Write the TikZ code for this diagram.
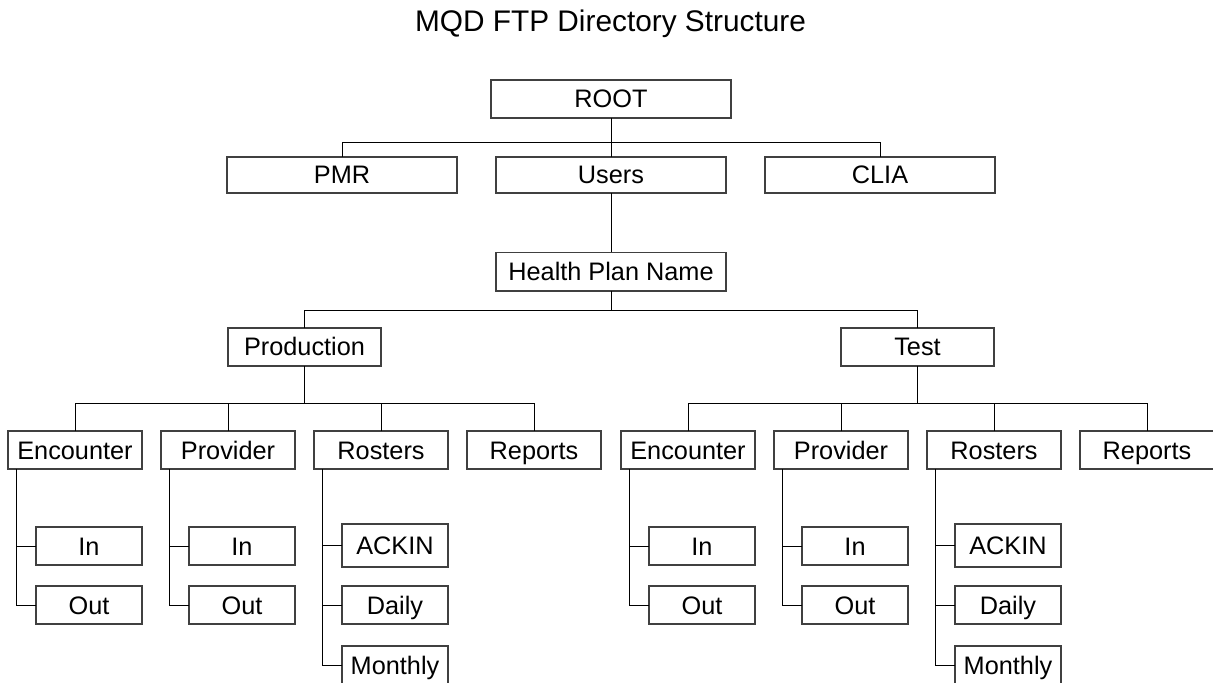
\documentclass[tikz,border=0pt]{standalone}
\usepackage{fontspec}
\setmainfont{Liberation Sans}
\usetikzlibrary{positioning}
\tikzset{
  dir/.style ={rectangle, draw=black!75, line width=0.6pt, align=center, inner sep=0pt, outer sep=0pt,
               minimum width=67pt, minimum height=19pt, text height=9pt, text depth=0pt,
               font=\fontsize{12.65}{15}\selectfont},
  sub/.style ={dir, minimum width=53pt},
  ttl/.style ={font=\fontsize{14.9}{18}\selectfont, anchor=base},
  ln/.style  ={line width=0.5pt},
}
\begin{document}
\begin{tikzpicture}[node distance=9.5pt]
  \useasboundingbox (0,0) rectangle (606.5pt,-341.5pt);
  \node[ttl] (title) at (305.25pt,-16pt) {MQD FTP Directory Structure};
  \node[dir, minimum width=120pt] (root) at (305.5pt,-49.5pt) {ROOT};
  \node[dir, minimum width=115pt, minimum height=18pt, below=19.5pt of root] (users) {Users};
  \node[dir, minimum width=115pt, minimum height=18pt, left=19.5pt of users] (pmr) {PMR};
  \node[dir, minimum width=115pt, minimum height=18pt, right=19.5pt of users] (clia) {CLIA};
  \node[dir, minimum width=115pt, minimum height=19.25pt, below=29.75pt of users] (plan) {Health Plan Name};
  \node[dir, minimum width=76.5pt, below=18.5pt of plan, xshift=-153.25pt] (prod) {Production};
  \node[dir, minimum width=76.5pt, below=18.5pt of plan, xshift=153.25pt] (test) {Test};

  % Production
  \node[dir, below=32.5pt of prod, xshift=-114.75pt] (encP) {Encounter};
  \node[dir, right=of encP] (provP) {Provider};
  \node[dir, right=of provP] (rosP) {Rosters};
  \node[dir, right=of rosP] (repP) {Reports};
  \node[sub, below left=29pt and 0pt of encP.south east] (inEP) {In};
  \node[sub, below=10.5pt of inEP] (outEP) {Out};
  \node[sub, below left=29pt and 0pt of provP.south east] (inPP) {In};
  \node[sub, below=10.5pt of inPP] (outPP) {Out};
  \node[sub, minimum height=21.5pt, below left=27.5pt and 0pt of rosP.south east] (ackP) {ACKIN};
  \node[sub, below=9.5pt of ackP] (dayP) {Daily};
  \node[sub, below=11pt of dayP] (monP) {Monthly};

  % Test
  \node[dir, below=32.5pt of test, xshift=-114.75pt] (encT) {Encounter};
  \node[dir, right=of encT] (provT) {Provider};
  \node[dir, right=of provT] (rosT) {Rosters};
  \node[dir, right=of rosT] (repT) {Reports};
  \node[sub, below left=29pt and 0pt of encT.south east] (inET) {In};
  \node[sub, below=10.5pt of inET] (outET) {Out};
  \node[sub, below left=29pt and 0pt of provT.south east] (inPT) {In};
  \node[sub, below=10.5pt of inPT] (outPT) {Out};
  \node[sub, minimum height=21.5pt, below left=27.5pt and 0pt of rosT.south east] (ackT) {ACKIN};
  \node[sub, below=9.5pt of ackT] (dayT) {Daily};
  \node[sub, below=11pt of dayT] (monT) {Monthly};

  \draw[ln] (root) -- (users);
  \draw[ln] (pmr.north) -- ++(0,7.15pt) coordinate (busR) -| (clia.north);
  \draw[ln] (users) -- (plan);
  \draw[ln] (prod.north) -- ++(0,8.65pt) coordinate (busH) -| (test.north);
  \draw[ln] (plan.south) -- (plan.south |- busH);

  \draw[ln] (encP.north) -- ++(0,13.5pt) coordinate (busP) -| (repP.north);
  \draw[ln] (prod.south) -- (prod.south |- busP);
  \draw[ln] (provP.north) -- (provP.north |- busP);
  \draw[ln] (rosP.north) -- (rosP.north |- busP);
  \draw[ln] (inEP.west) -| ([xshift=4.25pt]encP.south west);
  \draw[ln] (outEP.west) -| ([xshift=4.25pt]encP.south west);
  \draw[ln] (inPP.west) -| ([xshift=4.25pt]provP.south west);
  \draw[ln] (outPP.west) -| ([xshift=4.25pt]provP.south west);
  \draw[ln] (ackP.west) -| ([xshift=4.25pt]rosP.south west);
  \draw[ln] (dayP.west) -| ([xshift=4.25pt]rosP.south west);
  \draw[ln] (monP.west) -| ([xshift=4.25pt]rosP.south west);

  \draw[ln] (encT.north) -- ++(0,13.5pt) coordinate (busT) -| (repT.north);
  \draw[ln] (test.south) -- (test.south |- busT);
  \draw[ln] (provT.north) -- (provT.north |- busT);
  \draw[ln] (rosT.north) -- (rosT.north |- busT);
  \draw[ln] (inET.west) -| ([xshift=4.25pt]encT.south west);
  \draw[ln] (outET.west) -| ([xshift=4.25pt]encT.south west);
  \draw[ln] (inPT.west) -| ([xshift=4.25pt]provT.south west);
  \draw[ln] (outPT.west) -| ([xshift=4.25pt]provT.south west);
  \draw[ln] (ackT.west) -| ([xshift=4.25pt]rosT.south west);
  \draw[ln] (dayT.west) -| ([xshift=4.25pt]rosT.south west);
  \draw[ln] (monT.west) -| ([xshift=4.25pt]rosT.south west);
\end{tikzpicture}
\end{document}
